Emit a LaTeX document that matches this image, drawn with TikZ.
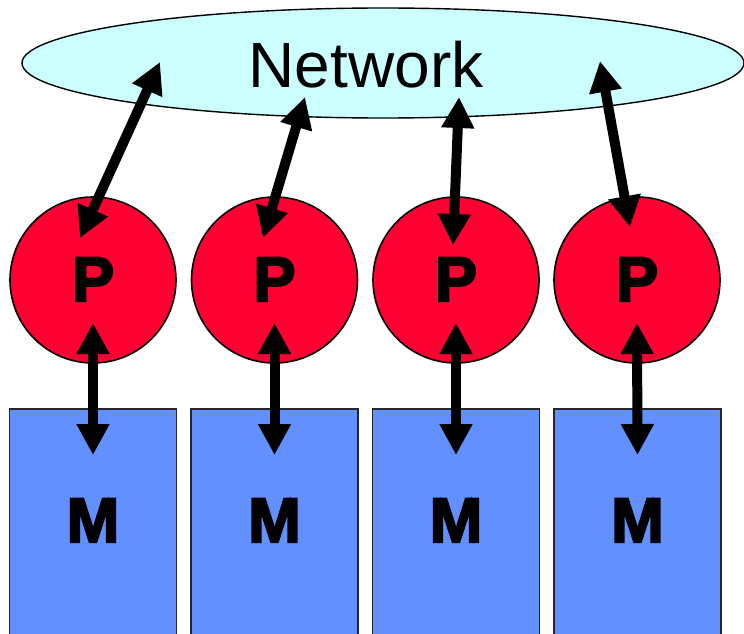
\documentclass[tikz,border=0pt]{standalone}
\usepackage{fontspec}
\setmainfont{Liberation Sans}
\newfontfamily\heavyfont[FakeBold=3.5]{Liberation Sans Bold}
\usetikzlibrary{shapes.geometric,arrows.meta}
\definecolor{netcyan}{HTML}{CCFFFF}
\definecolor{procred}{HTML}{FF0033}
\definecolor{memblue}{HTML}{6390FF}
\tikzset{
  netshape/.style={ellipse, draw=black, line width=1.4pt, fill=netcyan,
    minimum width=722pt, minimum height=110pt, inner sep=0pt},
  proc/.style={circle, draw=black, line width=1.6pt, fill=procred,
    minimum size=166pt, inner sep=0pt},
  mem/.style={rectangle, draw=black!85, line width=1.6pt, fill=memblue,
    minimum width=167pt, minimum height=320pt, inner sep=0pt, anchor=north},
  biglabel/.style={font=\fontsize{63}{70}\selectfont\heavyfont, anchor=base, inner sep=0pt},
  biarrow/.style={line width=10pt, {Triangle[width=31pt,length=31pt]}-{Triangle[width=31pt,length=31pt]}},
}
\begin{document}
\begin{tikzpicture}[x=1pt,y=-1pt]
\useasboundingbox (0,0) rectangle (744,634);
\clip (0,0) rectangle (744,634);

% network
\node[netshape] (net) at (383,63) {};
\node[anchor=base, inner sep=0pt, font=\fontsize{64}{70}\selectfont] (netlabel) at (366,87) {Network};

% processors
\foreach \i/\x in {1/93, 2/274.5, 3/456, 4/637}{
  \node[proc] (p\i) at (\x,280) {};
  \node[biglabel] (pl\i) at (\x,301) {P};
}

% memories
\foreach \i/\x in {1/93, 2/274.5, 3/456, 4/637.5}{
  \node[mem, minimum width=167pt] (m\i) at (\x,408) {};
  \node[biglabel] (ml\i) at (\x,542) {M};
}

% ends of the network links inside the ellipse
\coordinate (n1) at (160,62);
\coordinate (n2) at (305,97);
\coordinate (n3) at (459,97);
\coordinate (n4) at (600,61);

% processor <-> network
\draw[biarrow] (n1) -- ([xshift=-13pt,yshift=42pt]p1.center);
\draw[biarrow] (n2) -- ([xshift=-11.5pt,yshift=42pt]p2.center);
\draw[biarrow] (n3) -- ([xshift=-3pt,yshift=35pt]p3.center);
\draw[biarrow] (n4) -- ([xshift=-7pt,yshift=53pt]p4.center);

% processor <-> memory
\foreach \i in {1,...,4}{
  \draw[biarrow] ([yshift=-43pt]p\i.center) -- ([yshift=-47pt]m\i.north);
}
\end{tikzpicture}
\end{document}
